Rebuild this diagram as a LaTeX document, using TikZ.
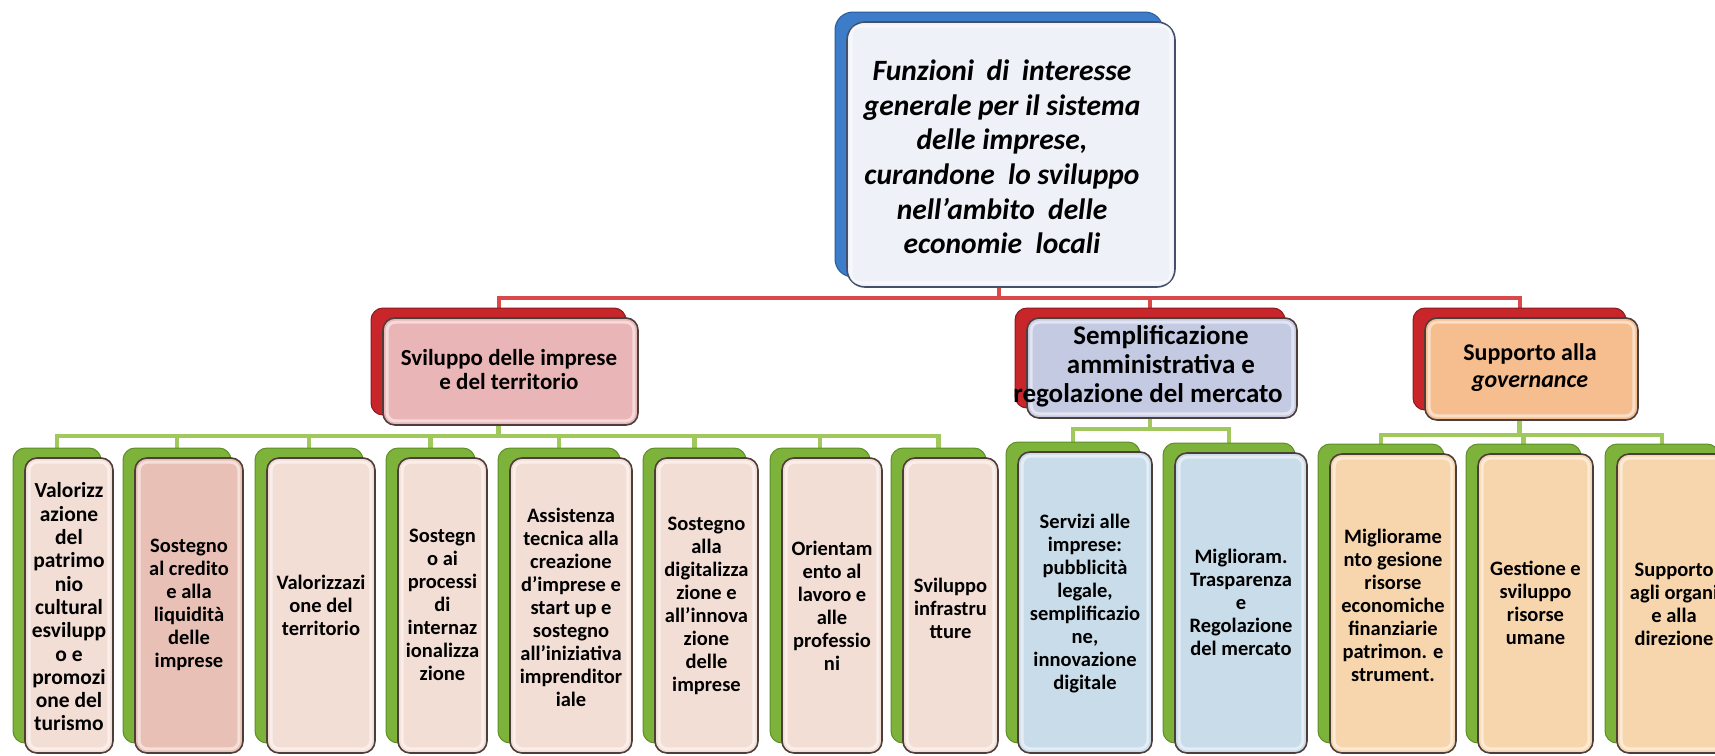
\documentclass[tikz,border=0pt]{standalone}
\usepackage{fontspec}
\setmainfont{Carlito}
\usetikzlibrary{shadows,backgrounds,calc}
\definecolor{topback}{RGB}{61,124,201}
\definecolor{topbackedge}{RGB}{42,90,153}
\definecolor{topfront}{RGB}{238,241,247}
\definecolor{topedge}{RGB}{68,80,107}
\definecolor{redback}{RGB}{200,38,43}
\definecolor{redbackedge}{RGB}{139,26,29}
\definecolor{greenback}{RGB}{125,179,58}
\definecolor{greenbackedge}{RGB}{94,143,39}
\definecolor{frontedge}{RGB}{78,62,58}
\definecolor{svilfill}{RGB}{234,181,182}
\definecolor{semplfill}{RGB}{197,202,227}
\definecolor{suppfill}{RGB}{246,189,143}
\definecolor{pinkfill}{RGB}{243,222,214}
\definecolor{rosefill}{RGB}{233,192,182}
\definecolor{bluefill}{RGB}{201,220,234}
\definecolor{peachfill}{RGB}{247,214,174}
\definecolor{redconn}{RGB}{217,72,74}
\definecolor{greenconn}{RGB}{160,200,92}
\begin{document}
\begin{tikzpicture}[x=1pt,y=-1pt,
  lvlzero/.style={draw=topedge, line width=1.6pt, fill=topfront, rounded corners=18pt, inner sep=0,
    copy shadow={shadow xshift=-12pt, shadow yshift=10pt, fill=topback, draw=topbackedge, line width=1pt}},
  lvlone/.style={draw=frontedge, line width=1.6pt, rounded corners=12pt, inner sep=0,
    copy shadow={shadow xshift=-12pt, shadow yshift=10pt, fill=redback, draw=redbackedge, line width=1pt}},
  lvltwo/.style={draw=frontedge, line width=1.6pt, rounded corners=12pt, inner sep=0,
    minimum height=#1,
    copy shadow={shadow xshift=-12pt, shadow yshift=10pt, fill=greenback, draw=greenbackedge, line width=1pt}},
  bevelline/.style={draw=white, draw opacity=0.5, line width=3pt, rounded corners=8pt},
  txt/.style={align=center, inner sep=0, font=\bfseries\fontsize{20.5}{23}\selectfont},
  redc/.style={draw=redconn, line width=4pt},
  greenc/.style={draw=greenconn, line width=4.5pt}
]
\begin{scope}[on background layer]
\fill[white] (0,0) rectangle (1715,755);
\end{scope}
\useasboundingbox (0,0) rectangle (1715,755);

% top
\node[lvlzero, minimum width=328pt, minimum height=265pt] (top) at (1011,154.5) {};
% level 1
\node[lvlone, fill=svilfill, minimum width=255pt, minimum height=107pt] (svil) at (510.5,371.5) {};
\node[lvlone, fill=semplfill, minimum width=270pt, minimum height=100pt] (sempl) at (1162,368) {};
\node[lvlone, fill=suppfill, minimum width=213pt, minimum height=102pt] (supp) at (1531.5,369) {};
% level 2
\node[lvltwo=295pt, fill=pinkfill, minimum width=88pt] (c1) at (69,605.5) {};
\node[lvltwo=295pt, fill=rosefill, minimum width=108pt] (c2) at (189,605.5) {};
\node[lvltwo=295pt, fill=pinkfill, minimum width=108pt] (c3) at (321,605.5) {};
\node[lvltwo=295pt, fill=pinkfill, minimum width=89pt] (c4) at (442.5,605.5) {};
\node[lvltwo=295pt, fill=pinkfill, minimum width=122pt] (c5) at (571,605.5) {};
\node[lvltwo=295pt, fill=pinkfill, minimum width=103pt] (c6) at (706.5,605.5) {};
\node[lvltwo=295pt, fill=pinkfill, minimum width=100pt] (c7) at (832,605.5) {};
\node[lvltwo=295pt, fill=pinkfill, minimum width=95pt] (c8) at (950.5,605.5) {};
\node[lvltwo=301pt, fill=bluefill, minimum width=134pt] (c9) at (1085,602.5) {};
\node[lvltwo=300pt, fill=bluefill, minimum width=132pt] (c10) at (1241,603) {};
\node[lvltwo=299pt, fill=peachfill, minimum width=126pt] (c11) at (1393,603.5) {};
\node[lvltwo=299pt, fill=peachfill, minimum width=115pt] (c12) at (1535.5,603.5) {};
\node[lvltwo=299pt, fill=peachfill, minimum width=114pt] (c13) at (1674,603.5) {};

% bevel highlights
\foreach \n in {top,svil,sempl,supp,c1,c2,c3,c4,c5,c6,c7,c8,c9,c10,c11,c12,c13}
  \draw[bevelline] ([xshift=5pt,yshift=-5pt]\n.north west) rectangle ([xshift=-5pt,yshift=5pt]\n.south east);

% connectors
\begin{scope}[on background layer]
\foreach \c in {svil,sempl,supp}
  \draw[redc] ([xshift=-12pt]top.south) -- ++(0,10) -| ([xshift=-12pt]\c.north);
\foreach \c in {c1,c2,c3,c4,c5,c6,c7,c8}
  \draw[greenc] ([xshift=-12pt]svil.south) -- ++(0,10) -| ([xshift=-12pt]\c.north);
\foreach \c in {c9,c10}
  \draw[greenc] ([xshift=-12pt]sempl.south) -- ++(0,10) -| ([xshift=-12pt]\c.north);
\foreach \c in {c11,c12,c13}
  \draw[greenc] ([xshift=-12pt]supp.south) -- ++(0,14) -| ([xshift=-12pt]\c.north);
\end{scope}

% texts
\node[txt, font=\bfseries\itshape\fontsize{29.5}{34.6}\selectfont] (ttop) at (1002,157)
  {\spaceskip=0.42em\relax Funzioni di interesse\\generale per il sistema\\delle imprese,\\curandone\ \ lo sviluppo\\nell’ambito\ \ delle\\economie\ \ locali};
\node[txt, font=\bfseries\fontsize{23}{24}\selectfont] (tsvil) at (509,370) {Sviluppo delle imprese\\e del territorio};
\node[txt, font=\bfseries\fontsize{27}{29}\selectfont] (tsempl) at (1148,366) {\hspace*{26pt}Semplificazione\\\hspace*{26pt}amministrativa e\\regolazione del mercato};
\node[txt, font=\bfseries\fontsize{24}{27}\selectfont] (tsupp) at (1530,368) {Supporto alla\\\textit{governance}};

\node[txt, font=\bfseries\fontsize{21.5}{23.3}\selectfont] (t1) at (69,607) {Valorizz\\azione\\del\\patrimo\\nio\\cultural\\esvilupp\\o e\\promozi\\one del\\turismo};
\node[txt] (t2) at (189,605) {Sostegno\\al credito\\e alla\\liquidità\\delle\\imprese};
\node[txt] (t3) at (321,605) {Valorizzazi\\one del\\territorio};
\node[txt] (t4) at (442.5,605) {Sostegn\\o ai\\processi\\di\\internaz\\ionalizza\\zione};
\node[txt] (t5) at (571,607) {Assistenza\\tecnica alla\\creazione\\d’imprese e\\start up e\\sostegno\\all'iniziativa\\imprenditor\\iale};
\node[txt] (t6) at (706.5,606) {Sostegno\\alla\\digitalizza\\zione e\\all'innova\\zione\\delle\\imprese};
\node[txt] (t7) at (832,606) {Orientam\\ento al\\lavoro e\\alle\\professio\\ni};
\node[txt] (t8) at (950.5,608) {Sviluppo\\infrastru\\tture};
\node[txt] (t9) at (1085,604) {Servizi alle\\imprese:\\pubblicità\\legale,\\semplificazio\\ne,\\innovazione\\digitale};
\node[txt] (t10) at (1241,602) {Miglioram.\\Trasparenza\\e\\Regolazione\\del mercato};
\node[txt] (t11) at (1393,605) {Migliorame\\nto gesione\\risorse\\economiche\\finanziarie\\patrimon. e\\strument.};
\node[txt] (t12) at (1535.5,603) {Gestione e\\sviluppo\\risorse\\umane};
\node[txt] (t13) at (1674,604) {Supporto\\agli organi\\e alla\\direzione};
\end{tikzpicture}
\end{document}
